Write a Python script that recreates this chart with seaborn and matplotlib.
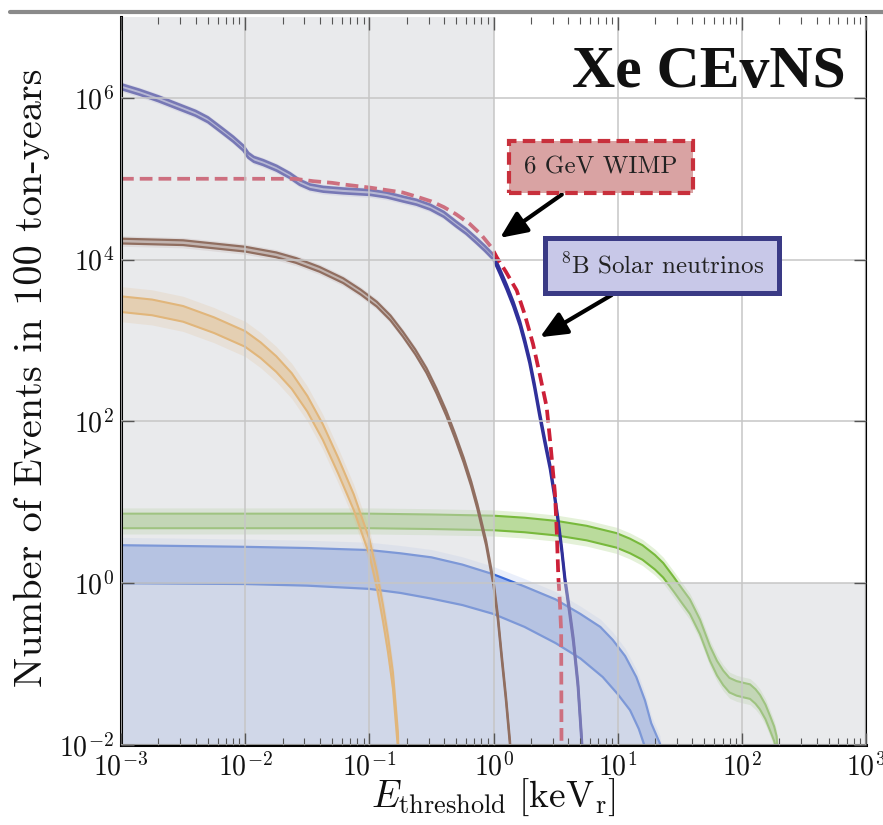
import numpy as np
import pandas as pd
import matplotlib
matplotlib.use("Agg")
import matplotlib.pyplot as plt
from matplotlib.lines import Line2D
from matplotlib.ticker import FixedLocator, FuncFormatter, NullLocator, LogLocator
import seaborn as sns

# ---------------------------------------------------------------------------
# Event counts above threshold (100 ton-years, xenon CEvNS), as log10 values
# ---------------------------------------------------------------------------
logE_total = [-3.0, -2.85, -2.7, -2.55, -2.4, -2.3, -2.18, -2.096, -2.015, -1.975, -1.93,
              -1.854, -1.746, -1.64, -1.56, -1.478, -1.37, -1.21, -1.1, -0.99, -0.86,
              -0.73, -0.62, -0.51, -0.40, -0.30, -0.22, -0.14, -0.07, 0.0, 0.05, 0.106,
              0.16, 0.213, 0.25, 0.29, 0.33, 0.37, 0.41, 0.455, 0.49, 0.52, 0.55, 0.576,
              0.61, 0.643, 0.68, 0.71, 0.72]
logN_total = [6.14, 6.07, 5.99, 5.90, 5.81, 5.73, 5.59, 5.49, 5.38, 5.29, 5.24,
              5.20, 5.13, 5.04, 4.955, 4.90, 4.87, 4.85, 4.84, 4.83, 4.80,
              4.75, 4.71, 4.65, 4.56, 4.44, 4.35, 4.24, 4.14, 4.03, 3.86, 3.66,
              3.45, 3.21, 3.00, 2.75, 2.44, 2.10, 1.78, 1.44, 1.10, 0.78, 0.41, 0.04,
              -0.32, -0.70, -1.25, -1.94, -2.2]

logE_wimp = [-3.0, -1.60, -1.45, -1.3, -1.21, -1.1, -0.99, -0.86, -0.73, -0.6, -0.5,
             -0.40, -0.3, -0.19, -0.1, -0.015, 0.026, 0.1, 0.187, 0.25, 0.318, 0.37,
             0.428, 0.46, 0.495, 0.51, 0.522, 0.535, 0.545, 0.548]
logN_wimp = [5.0, 5.0, 4.97, 4.95, 4.93, 4.91, 4.89, 4.86, 4.83, 4.77, 4.72,
             4.65, 4.56, 4.44, 4.31, 4.15, 4.03, 3.85, 3.62, 3.33, 2.96, 2.60,
             2.18, 1.70, 1.11, 0.62, 0.08, -0.25, -0.6, -2.2]

logE_brown = [-3.0, -2.5, -2.0, -1.75, -1.59, -1.4, -1.21, -1.07, -0.94, -0.83, -0.73,
              -0.63, -0.54, -0.46, -0.38, -0.31, -0.24, -0.18, -0.13, -0.06, 0.0, 0.035,
              0.066, 0.10, 0.133, 0.14]
logN_brown = [4.23, 4.21, 4.13, 4.06, 3.99, 3.88, 3.74, 3.60, 3.45, 3.28, 3.08,
              2.86, 2.63, 2.38, 2.10, 1.82, 1.52, 1.23, 0.95, 0.50, 0.0, -0.42,
              -0.91, -1.42, -1.98, -2.2]

logE_orange = [-3.0, -2.75, -2.5, -2.25, -2.0, -1.875, -1.75, -1.625, -1.5, -1.375,
               -1.25, -1.125, -1.0, -0.94, -0.89, -0.85, -0.81, -0.77, -0.765]
logN_orange = [3.45, 3.41, 3.33, 3.19, 3.02, 2.88, 2.71, 2.50, 2.22, 1.87,
               1.45, 1.00, 0.45, 0.05, -0.37, -0.75, -1.2, -1.94, -2.2]

logE_green = [-3.0, -1.0, -0.5, 0.0, 0.25, 0.51, 0.75, 0.99, 1.1, 1.2, 1.3, 1.367, 1.45,
              1.52, 1.582, 1.663, 1.744, 1.80, 1.85, 1.90, 1.958, 2.01, 2.066, 2.11,
              2.146, 2.19, 2.227, 2.26, 2.28, 2.29]
logN_green = [0.77, 0.77, 0.76, 0.745, 0.72, 0.68, 0.62, 0.53, 0.46, 0.38, 0.26, 0.16,
              -0.01, -0.16, -0.29, -0.54, -0.87, -1.05, -1.17, -1.26, -1.30, -1.32,
              -1.34, -1.40, -1.47, -1.59, -1.73, -1.86, -1.98, -2.2]

logE_blue_hi = [-3.0, -2.0, -1.5, -1.0, -0.75, -0.5, -0.25, 0.0, 0.25, 0.5, 0.7, 0.86,
                0.96, 1.06, 1.15, 1.22, 1.27, 1.34, 1.36]
logN_blue_hi = [0.47, 0.45, 0.435, 0.41, 0.37, 0.32, 0.23, 0.11, -0.04, -0.20, -0.38,
                -0.54, -0.70, -0.90, -1.16, -1.45, -1.73, -1.98, -2.2]
logE_blue_lo = [-3.0, -2.0, -1.5, -1.0, -0.75, -0.5, -0.25, 0.0, 0.25, 0.5, 0.7, 0.88,
                1.0, 1.10, 1.17, 1.21, 1.23]
logN_blue_lo = [0.0, -0.01, -0.03, -0.07, -0.12, -0.19, -0.27, -0.38, -0.54, -0.74,
                -0.93, -1.16, -1.37, -1.57, -1.80, -1.98, -2.2]

# fractional flux uncertainties (1 sigma, 2 sigma) as multiplicative factors
UNC_TOTAL = (1.07, 1.15)
UNC_BROWN = (1.07, 1.16)
UNC_ORANGE = (1.25, 1.65)
UNC_GREEN = (1.23, 1.45)
UNC_BLUE_HALO = 1.25

X_TICKS = [1e-3, 1e-2, 1e-1, 1e0, 1e1, 1e2, 1e3]
Y_TICKS = [1e-2, 1e0, 1e2, 1e4, 1e6]
X_LIM = (1e-3, 1e3)
Y_LIM = (1e-2, 1e7)
FLOOR = 1e-3
SHADE_E = 1.0   # threshold below which the region is shaded
SHADE_N = 1.0   # event count below which the region is shaded

NAVY = "#30309a"
RED = "#cc2038"
BROWN = "#5e1e00"
ORANGE = "#f0a030"
GREEN = "#78b93c"
BLUE = "#3a6ad8"


def lin(v):
    return 10.0 ** np.asarray(v, dtype=float)


sns.set_theme(style="ticks")
plt.rcParams.update({
    "mathtext.fontset": "cm",
    "font.family": ["DejaVu Serif"],
    "axes.unicode_minus": True,
})

fig = plt.figure(figsize=(8.83, 8.25), dpi=100)
ax = fig.add_axes([121 / 883, 80 / 825, 745 / 883, 728 / 825])
ax.set_facecolor("white")
ax.set_xscale("log")
ax.set_yscale("log")
ax.set_xlim(*X_LIM)
ax.set_ylim(*Y_LIM)


def band(E, N, unc, color, z, fill_alpha=0.45, halo_alpha=0.18, lw=1.5):
    f1, f2 = unc
    ax.fill_between(E, N / f2, N * f2, color=color, alpha=halo_alpha, lw=0, zorder=z)
    ax.fill_between(E, N / f1, N * f1, color=color, alpha=fill_alpha, lw=0, zorder=z + 0.01)
    for fac in (f1, 1 / f1):
        sns.lineplot(x=E, y=N * fac, ax=ax, color=color, lw=lw, estimator=None,
                     sort=False, zorder=z + 0.02)


# blue band (two curves with filled region underneath)
Ebh, Nbh = lin(logE_blue_hi), lin(logN_blue_hi)
Ebl, Nbl = lin(logE_blue_lo), lin(logN_blue_lo)
ax.fill_between(Ebh, FLOOR, Nbh * UNC_BLUE_HALO, color=BLUE, alpha=0.10, lw=0, zorder=1.0)
ax.fill_between(Ebh, FLOOR, Nbh, color=BLUE, alpha=0.14, lw=0, zorder=1.01)
lo_on_hi = np.interp(logE_blue_hi, logE_blue_lo, logN_blue_lo, right=np.log10(FLOOR))
ax.fill_between(Ebh, lin(lo_on_hi), Nbh, color=BLUE, alpha=0.30, lw=0, zorder=1.02)
sns.lineplot(x=Ebh, y=Nbh, ax=ax, color=BLUE, lw=1.6, estimator=None, sort=False, zorder=1.03)
sns.lineplot(x=Ebl, y=Nbl, ax=ax, color=BLUE, lw=1.6, estimator=None, sort=False, zorder=1.03)

band(lin(logE_green), lin(logN_green), UNC_GREEN, GREEN, 1.1, fill_alpha=0.38, halo_alpha=0.2)
band(lin(logE_orange), lin(logN_orange), UNC_ORANGE, ORANGE, 1.2, fill_alpha=0.4, halo_alpha=0.18)
band(lin(logE_brown), lin(logN_brown), UNC_BROWN, BROWN, 1.3, fill_alpha=0.35, halo_alpha=0.12, lw=1.6)
band(lin(logE_total), lin(logN_total), UNC_TOTAL, NAVY, 1.4, fill_alpha=0.35, halo_alpha=0.12, lw=1.9)

# WIMP signal
sns.lineplot(x=lin(logE_wimp), y=lin(logN_wimp), ax=ax, color=RED, lw=2.7, estimator=None,
             sort=False, zorder=1.8)
ax.lines[-1].set_dashes((3.4, 1.6))

# shaded region (below threshold / below one event)
shade_x = [X_LIM[0], X_LIM[1], X_LIM[1], SHADE_E, SHADE_E, X_LIM[0]]
shade_y = [Y_LIM[0], Y_LIM[0], SHADE_N, SHADE_N, Y_LIM[1], Y_LIM[1]]
ax.fill(shade_x, shade_y, color="#cfd1d7", alpha=0.45, lw=0, zorder=2.2)

# grid, ticks, spines
ax.set_axisbelow(False)
ax.grid(True, which="major", color="#c6c6c6", lw=1.1)
pow_fmt = FuncFormatter(lambda v, p: r"$10^{%d}$" % int(round(np.log10(v))))
ax.xaxis.set_major_locator(FixedLocator(X_TICKS))
ax.xaxis.set_minor_locator(LogLocator(base=10, subs=np.arange(2, 10), numticks=20))
ax.xaxis.set_major_formatter(pow_fmt)
ax.yaxis.set_major_locator(FixedLocator(Y_TICKS))
ax.yaxis.set_minor_locator(NullLocator())
ax.yaxis.set_major_formatter(pow_fmt)
ax.tick_params(axis="x", which="major", direction="in", top=True, bottom=True,
               length=9, width=1.0, color="#555555", labelsize=20, pad=6,
               labelcolor="#111111")
ax.tick_params(axis="x", which="minor", direction="in", top=True, bottom=True,
               length=5, width=0.8, color="#555555")
ax.tick_params(axis="y", which="major", direction="in", left=True, right=True,
               length=9, width=1.0, color="#555555", labelsize=20, pad=5,
               labelcolor="#111111")
ax.set_xlim(*X_LIM)
ax.set_ylim(*Y_LIM)

ax.spines["top"].set_visible(False)
ax.spines["left"].set_linewidth(2.2)
ax.spines["bottom"].set_linewidth(2.2)
ax.spines["right"].set_linewidth(1.5)
for s in ("left", "bottom", "right"):
    ax.spines[s].set_color("black")

ax.set_xlabel(r"$E_{\rm threshold}\ [\mathrm{keV}_{\rm r}]$", fontsize=27, color="#111111")
ax.set_ylabel("Number of Events in 100 ton-years", fontfamily="cmr10", fontsize=29,
              color="#111111")
ax.xaxis.set_label_coords(0.5, -0.043)
ax.yaxis.set_label_coords(-0.095, 0.505)

ax.text(0.972, 0.904, "Xe CEvNS", transform=ax.transAxes, ha="right", va="baseline",
        fontsize=43, fontfamily="Liberation Serif", fontweight="bold", color="#111111",
        zorder=6)

arrow_kw = dict(arrowstyle="-|>,head_length=0.9,head_width=0.4", color="black",
                lw=3.0, mutation_scale=18, shrinkA=0, shrinkB=0)
ax.annotate("6 GeV WIMP", xy=(1.13, 1.86e4), xytext=(7.35, 1.4e5),
            ha="center", va="center", fontsize=18, fontfamily="cmr10", color="#222222",
            bbox=dict(boxstyle="square,pad=0.6", fc="#d9a3a3", ec="#c8303c", lw=3.0,
                      ls=(0, (3, 1.5))),
            arrowprops=arrow_kw, zorder=6)
ax.annotate(r"$^{8}$B Solar neutrinos", xy=(2.37, 1.1e3), xytext=(22.7, 8.5e3),
            ha="center", va="center", fontsize=18, fontfamily="cmr10", color="#222222",
            bbox=dict(boxstyle="square,pad=0.6", fc="#c8c8e8", ec="#3a3a85", lw=3.6),
            arrowprops=arrow_kw, zorder=6)

fig.add_artist(Line2D([10 / 883, 1.0], [1 - 12 / 825, 1 - 12 / 825],
                      transform=fig.transFigure, color="#8a8a8a", lw=3))

fig.savefig("out.png", dpi=100)
